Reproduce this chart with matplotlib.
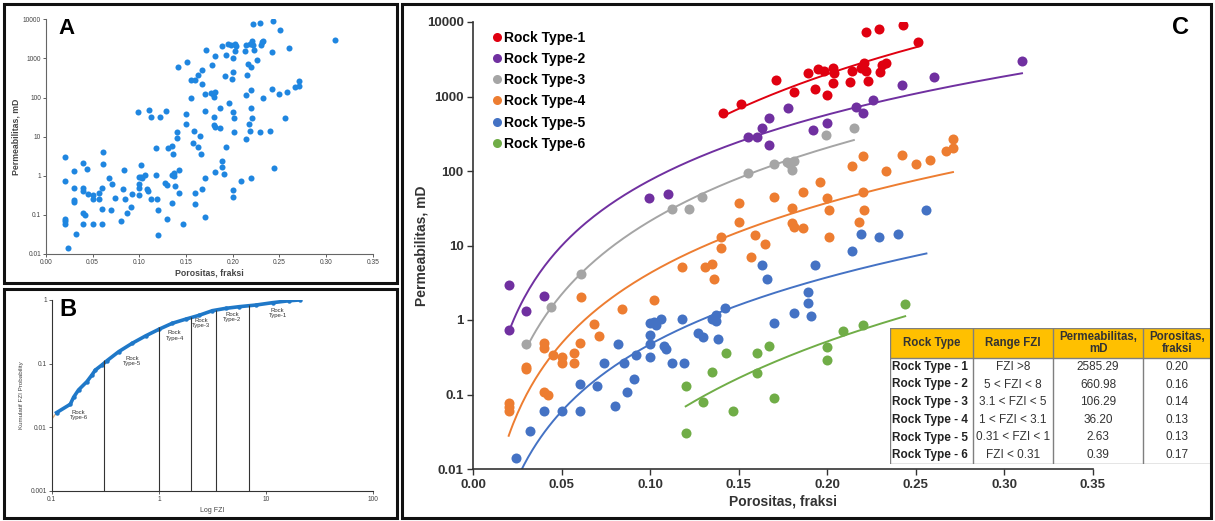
import matplotlib
matplotlib.use("Agg")
import matplotlib.pyplot as plt
from matplotlib.patches import Rectangle
from matplotlib.lines import Line2D
import numpy as np

plt.rcParams['font.family'] = ['Liberation Sans', 'DejaVu Sans']

# porosity (fraction) / permeability (mD) per rock type
rt1_phi = [0.141, 0.151, 0.171, 0.181, 0.189, 0.193, 0.195, 0.198, 0.200, 0.203, 0.203, 0.204, 0.213,
           0.214, 0.219, 0.221, 0.222, 0.223, 0.230, 0.231, 0.233, 0.222, 0.229, 0.243, 0.251]
rt1_k = [595, 790, 1660, 1160, 2090, 1250, 2320, 2200, 1050, 1530, 2390, 2050, 1580,
         2220, 2390, 2790, 2220, 1630, 2150, 2650, 2840, 7400, 8050, 9100, 5440]

rt2_phi = [0.020, 0.020, 0.030, 0.040, 0.099, 0.110, 0.155, 0.160, 0.163, 0.167, 0.167, 0.178,
           0.192, 0.200, 0.216, 0.220, 0.226, 0.242, 0.260, 0.310]
rt2_k = [2.95, 0.73, 1.33, 2.1, 43, 49, 283, 289, 378, 510, 223, 694,
         355, 437, 730, 606, 897, 1430, 1810, 3020]

rt3_phi = [0.030, 0.044, 0.061, 0.112, 0.122, 0.129, 0.155, 0.170, 0.177, 0.181, 0.180, 0.179,
           0.199, 0.215]
rt3_k = [0.476, 1.51, 4.14, 30.9, 30.9, 44.5, 95, 124, 133, 137, 103, 124, 304, 374]

rt4_phi = [0.020, 0.020, 0.020, 0.030, 0.030, 0.040, 0.042, 0.040, 0.040, 0.045, 0.050, 0.050,
           0.057, 0.057, 0.060, 0.061, 0.068, 0.071, 0.084, 0.102, 0.118, 0.131, 0.135, 0.136,
           0.140, 0.140, 0.150, 0.150, 0.157, 0.159, 0.165, 0.170, 0.180, 0.180, 0.181, 0.186,
           0.186, 0.196, 0.200, 0.201, 0.201, 0.214, 0.220, 0.220, 0.221, 0.218, 0.233, 0.242,
           0.250, 0.258, 0.267, 0.271, 0.271]
rt4_k = [0.078, 0.068, 0.060, 0.236, 0.218, 0.109, 0.100, 0.487, 0.417, 0.339, 0.322, 0.262,
         0.357, 0.262, 0.496, 2.02, 0.883, 0.61, 1.39, 1.85, 5.2, 5.2, 5.7, 3.5,
         9.2, 13.1, 37.5, 20.9, 6.95, 13.8, 10.6, 45, 31.6, 19.9, 17.9, 17.0,
         52.7, 71.8, 43, 30, 12.9, 117, 159, 52.7, 30, 20.9, 99, 164,
         124, 141, 187, 202, 267]

rt5_phi = [0.024, 0.032, 0.040, 0.050, 0.060, 0.060, 0.070, 0.074, 0.080, 0.082, 0.085, 0.087,
           0.091, 0.092, 0.100, 0.100, 0.100, 0.100, 0.103, 0.106, 0.102, 0.108, 0.109, 0.112,
           0.119, 0.118, 0.127, 0.130, 0.135, 0.137, 0.137, 0.142, 0.138, 0.170, 0.181, 0.189,
           0.189, 0.191, 0.163, 0.166, 0.193, 0.214, 0.219, 0.229, 0.240, 0.256]
rt5_k = [0.0139, 0.0327, 0.060, 0.060, 0.060, 0.138, 0.130, 0.267, 0.070, 0.472, 0.262, 0.109,
         0.160, 0.339, 0.322, 0.476, 0.63, 0.92, 0.857, 1.02, 0.95, 0.448, 0.405, 0.262,
         0.262, 1.02, 0.662, 0.597, 1.02, 1.17, 0.98, 1.44, 0.556, 0.90, 1.25, 2.4,
         1.71, 1.13, 5.47, 3.52, 5.47, 8.5, 14.3, 12.9, 14.3, 30]

rt6_phi = [0.120, 0.120, 0.130, 0.135, 0.143, 0.147, 0.160, 0.160, 0.167, 0.170, 0.200, 0.200,
           0.209, 0.220, 0.244]
rt6_k = [0.130, 0.030, 0.080, 0.200, 0.357, 0.060, 0.357, 0.192, 0.448, 0.089, 0.438, 0.290,
         0.72, 0.857, 1.62]

rt_names = ['Rock Type-1', 'Rock Type-2', 'Rock Type-3', 'Rock Type-4', 'Rock Type-5', 'Rock Type-6']
rt_colors = ['#E00010', '#7030A0', '#A5A5A5', '#ED7D31', '#4472C4', '#70AD47']

# cumulative FZI distribution
fzi_cum = [0.111, 0.149, 0.160, 0.178, 0.213, 0.237, 0.255, 0.294, 0.328, 0.422, 0.562, 0.75,
           1.0, 1.33, 1.78, 2.37, 3.16, 4.22, 5.62, 8.06, 11.5, 16.5, 20.5]
prob_cum = [0.0169, 0.0229, 0.0295, 0.0385, 0.052, 0.066, 0.079, 0.095, 0.111, 0.154, 0.208, 0.272,
            0.346, 0.43, 0.50, 0.574, 0.68, 0.74, 0.785, 0.834, 0.908, 0.975, 1.0]
fzi_cut = [0.31, 1.0, 2.0, 3.4, 7.0]
cut_top = [0.115, 0.38, 0.55, 0.70, 0.84]
b_labels = ['Rock\nType-6', 'Rock\nType-5', 'Rock\nType-4', 'Rock\nType-3', 'Rock\nType-2', 'Rock\nType-1']
b_label_x = [0.178, 0.56, 1.4, 2.48, 4.83, 12.8]
b_label_y = [0.0155, 0.11, 0.275, 0.435, 0.54, 0.625]

# summary table
tab_header = ['Rock Type', 'Range FZI', 'Permeabilitas,\nmD', 'Porositas,\nfraksi']
tab_type = ['Rock Type - 1', 'Rock Type - 2', 'Rock Type - 3', 'Rock Type - 4', 'Rock Type - 5', 'Rock Type - 6']
tab_range = ['FZI >8', '5 < FZI < 8', '3.1 < FZI < 5', '1 < FZI < 3.1', '0.31 < FZI < 1', 'FZI < 0.31']
tab_perm = ['2585.29', '660.98', '106.29', '36.20', '2.63', '0.39']
tab_poro = ['0.20', '0.16', '0.14', '0.13', '0.13', '0.17']

W, H = 1215, 521
fig = plt.figure(figsize=(W / 100, H / 100), dpi=100)


def box(x0, y0, x1, y1):
    return [x0 / W, 1 - y1 / H, (x1 - x0) / W, (y1 - y0) / H]


# panel frames
for x0, y0, x1, y1 in [(4, 4, 397, 283), (4, 289, 397, 518), (402, 4, 1211, 518)]:
    fig.patches.append(Rectangle((x0 / W, 1 - y1 / H), (x1 - x0) / W, (y1 - y0) / H,
                                 transform=fig.transFigure, fill=False, ec='#111111', lw=2.2))

phis = [rt1_phi, rt2_phi, rt3_phi, rt4_phi, rt5_phi, rt6_phi]
perms = [rt1_k, rt2_k, rt3_k, rt4_k, rt5_k, rt6_k]
log_ticks = [0.01, 0.1, 1, 10, 100, 1000, 10000]
log_tick_labels = ['0.01', '0.1', '1', '10', '100', '1000', '10000']
phi_ticks = np.arange(0, 0.36, 0.05)

# ---- A: all samples
axA = fig.add_axes(box(46, 19.3, 372.7, 254))
axA.scatter(np.concatenate(phis), np.concatenate(perms), s=19, color='#1F86E0', lw=0)
axA.set_yscale('log')
axA.set_xlim(0, 0.35)
axA.set_ylim(0.01, 10000)
axA.set_yticks(log_ticks)
axA.set_yticklabels(log_tick_labels)
axA.minorticks_off()
axA.set_xticks(phi_ticks)
axA.set_xticklabels(['%.2f' % v for v in phi_ticks])
axA.tick_params(labelsize=4.8, length=2, width=0.6, pad=1.5, colors='#444444')
for s in ['top', 'right']:
    axA.spines[s].set_visible(False)
for s in ['left', 'bottom']:
    axA.spines[s].set_color('#666666')
    axA.spines[s].set_linewidth(0.8)
axA.set_xlabel('Porositas, fraksi', fontsize=6.3, fontweight='bold', color='#444444', labelpad=2)
axA.set_ylabel('Permeabilitas, mD', fontsize=6.3, fontweight='bold', color='#444444', labelpad=2)
fig.text(58 / W, 1 - 29 / H, 'A', fontsize=16, fontweight='bold', va='center')

# ---- B: cumulative FZI
axB = fig.add_axes(box(51.7, 300, 373.3, 490.7))
axB.plot([0.1] + fzi_cum, [0.0133] + prob_cum, color='#E0B080', lw=1)
axB.plot(fzi_cum, prob_cum, color='#1F78C8', lw=2.6, marker='o', ms=3.2, mec='none')
axB.vlines(fzi_cut, 0.001, cut_top, color='#333333', lw=0.8)
for lx, ly, t in zip(b_label_x, b_label_y, b_labels):
    axB.text(lx, ly, t, fontsize=4.3, ha='center', va='center', color='#333333', linespacing=1.1)
axB.set_xscale('log')
axB.set_yscale('log')
axB.set_xlim(0.1, 100)
axB.set_ylim(0.001, 1)
axB.set_xticks([0.1, 1, 10, 100])
axB.set_xticklabels(['0.1', '1', '10', '100'])
axB.set_yticks([0.001, 0.01, 0.1, 1])
axB.set_yticklabels(['0.001', '0.01', '0.1', '1'])
axB.minorticks_off()
axB.tick_params(labelsize=4.8, length=2, width=0.6, pad=1.5, colors='#444444')
for s in ['top', 'right']:
    axB.spines[s].set_visible(False)
for s in ['left', 'bottom']:
    axB.spines[s].set_color('#333333')
    axB.spines[s].set_linewidth(0.8)
axB.set_xlabel('Log FZI', fontsize=5, color='#444444', labelpad=3)
axB.set_ylabel('Kumulatif FZI Probability', fontsize=4.5, color='#444444', labelpad=5)
fig.text(59 / W, 1 - 310 / H, 'B', fontsize=17, fontweight='bold', va='center')

# ---- C: rock types with power-law trend lines
axC = fig.add_axes(box(473.3, 22, 1092.8, 469))
for phi, k, c, name in zip(phis, perms, rt_colors, rt_names):
    phi = np.asarray(phi)
    k = np.asarray(k)
    axC.scatter(phi, k, s=52, color=c, lw=0, zorder=3)
    b, a = np.polyfit(np.log(phi), np.log(k), 1)
    xs = np.linspace(phi.min(), phi.max(), 200)
    axC.plot(xs, np.exp(a) * xs ** b, color=c, lw=1.4, zorder=2)
axC.set_yscale('log')
axC.set_xlim(0, 0.35)
axC.set_ylim(0.01, 10000)
axC.set_yticks(log_ticks)
axC.set_yticklabels(log_tick_labels)
axC.minorticks_off()
axC.set_xticks(phi_ticks)
axC.set_xticklabels(['%.2f' % v for v in phi_ticks])
axC.tick_params(labelsize=9.5, length=4, width=1, pad=3, colors='#333333')
for lab in axC.get_xticklabels() + axC.get_yticklabels():
    lab.set_fontweight('bold')
for s in ['top', 'right']:
    axC.spines[s].set_visible(False)
for s in ['left', 'bottom']:
    axC.spines[s].set_color('#333333')
    axC.spines[s].set_linewidth(1.2)
axC.set_xlabel('Porositas, fraksi', fontsize=10, fontweight='bold', color='#333333', labelpad=3)
axC.set_ylabel('Permeabilitas, mD', fontsize=10, fontweight='bold', color='#333333', labelpad=-1)
handles = [Line2D([], [], ls='none', marker='o', ms=6.5, color=c, mec='none') for c in rt_colors]
axC.legend(handles, rt_names, loc='upper left', bbox_to_anchor=(0.022, 0.993), frameon=False,
           handlelength=0.6, handletextpad=0.25, labelspacing=0.52, borderaxespad=0,
           prop={'size': 10, 'weight': 'bold'})
fig.text(1172 / W, 1 - 28 / H, 'C', fontsize=17, fontweight='bold', va='center')

# ---- summary table
tx0, tx1, ty0, ty1 = 890, 1211, 328, 464
axT = fig.add_axes(box(tx0, ty0, tx1, ty1))
axT.set_xlim(tx0, tx1)
axT.set_ylim(ty1, ty0)
axT.axis('off')
col_edges = [tx0, 973, 1053, 1143, tx1]
head_bot = 358
row_h = (ty1 - head_bot) / len(tab_type)
axT.add_patch(Rectangle((tx0, ty0), tx1 - tx0, ty1 - ty0, fc='white', ec='none'))
axT.add_patch(Rectangle((tx0, ty0), tx1 - tx0, head_bot - ty0, fc='#FFC000', ec='none'))
for xe in col_edges:
    axT.plot([xe, xe], [ty0, ty1], color='#7F7F7F', lw=1)
for ye in [ty0, head_bot, ty1]:
    axT.plot([tx0, tx1], [ye, ye], color='#7F7F7F', lw=1)
for j, t in enumerate(tab_header):
    axT.text((col_edges[j] + col_edges[j + 1]) / 2, (ty0 + head_bot) / 2, t, ha='center', va='center',
             fontsize=8.3, fontweight='bold', color='#333333', linespacing=1.05)
for i in range(len(tab_type)):
    yc = head_bot + (i + 0.5) * row_h
    axT.text(col_edges[0] + 2, yc, tab_type[i], ha='left', va='center', fontsize=8.5,
             fontweight='bold', color='#222222')
    for j, t in enumerate([tab_range[i], tab_perm[i], tab_poro[i]], start=1):
        axT.text((col_edges[j] + col_edges[j + 1]) / 2, yc, t, ha='center', va='center',
                 fontsize=8.5, color='#333333')

fig.savefig('out.png', dpi=100)
